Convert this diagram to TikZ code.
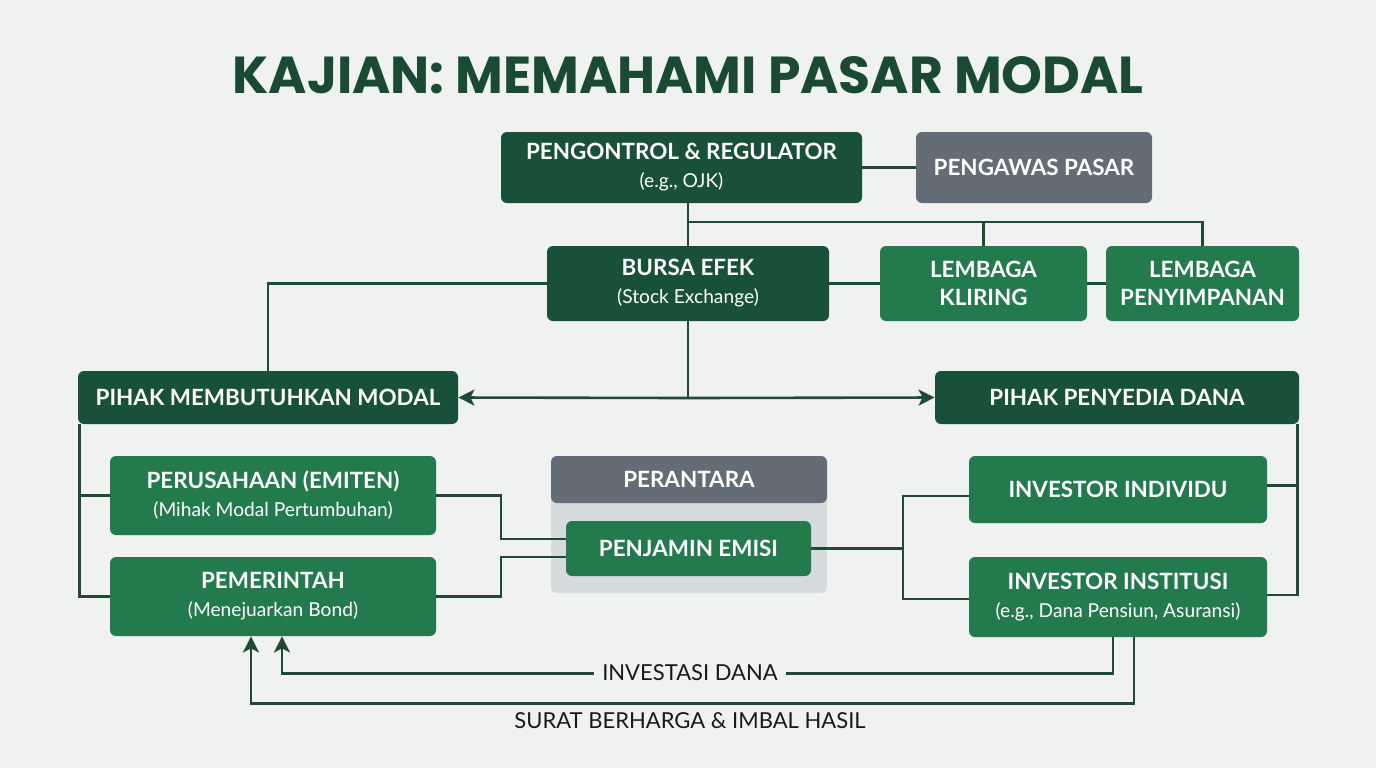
\documentclass[tikz,border=0pt]{standalone}
\usepackage{fontspec}
\setmainfont{Lato}
\newfontfamily\titlefont{Poppins}
\usetikzlibrary{positioning,arrows.meta}
\definecolor{bgcol}{HTML}{EFF2F1}
\definecolor{dkgreen}{HTML}{19503A}
\definecolor{mdgreen}{HTML}{237A4C}
\definecolor{slategrey}{HTML}{646D76}
\definecolor{panelgrey}{HTML}{D6DBDD}
\definecolor{linegreen}{HTML}{1E4A36}
\definecolor{titlegreen}{HTML}{1B4A33}
\newcommand{\subtxt}[1]{{\mdseries\fontsize{9.6}{11}\selectfont #1}}

\begin{document}
\begin{tikzpicture}[x=0.5pt,y=-0.5pt,
  box/.style={rounded corners=3pt, text=white, align=center, inner sep=0pt,
    font=\bfseries\fontsize{11.2}{14}\selectfont},
  dkbox/.style={box, fill=dkgreen},
  mdbox/.style={box, fill=mdgreen},
  gybox/.style={box, fill=slategrey},
  link/.style={draw=linegreen, line width=1.3pt},
  flow/.style={link, -{Stealth[length=8pt,width=8pt,inset=2pt]}},
  flowlbl/.style={text=black!90, font=\fontsize{11}{13}\selectfont}]
  \path[fill=bgcol] (0,0) rectangle (1376,768);

  \node (title) at (688,75) [text=titlegreen, font=\titlefont\bfseries\fontsize{26}{30}\selectfont] {KAJIAN: MEMAHAMI PASAR MODAL};

  \node (ctrl) [dkbox, minimum width=180.5pt, minimum height=35.5pt] at (681.5,167.5) {PENGONTROL \& REGULATOR\\\subtxt{(e.g., OJK)}};
  \node (pengawas) [gybox, minimum width=118pt, minimum height=35.5pt] at (1034,167.5) {PENGAWAS PASAR};
  \node (bursa) [dkbox, minimum width=141pt, minimum height=37.5pt] at (688,283.5) {BURSA EFEK\\\subtxt{(Stock Exchange)}};
  \node (kliring) [mdbox, minimum width=103.5pt, minimum height=37.5pt] at (983.5,283.5) {LEMBAGA\\KLIRING};
  \node (simpan) [mdbox, minimum width=96.5pt, minimum height=37.5pt] at (1202.5,283.5) {LEMBAGA\\PENYIMPANAN};
  \node (butuh) [dkbox, minimum width=190pt, minimum height=26.5pt] at (268,397.5) {PIHAK MEMBUTUHKAN MODAL};
  \node (sedia) [dkbox, minimum width=182pt, minimum height=26.5pt] at (1117,397.5) {PIHAK PENYEDIA DANA};
  \node (emiten) [mdbox, minimum width=163pt, minimum height=39.5pt] at (273,495.5) {PERUSAHAAN (EMITEN)\\\subtxt{(Mihak Modal Pertumbuhan)}};
  \node (pemerintah) [mdbox, minimum width=163pt, minimum height=39.5pt] at (273,596.5) {PEMERINTAH\\\subtxt{(Menejuarkan Bond)}};
  \node (perbox) [fill=panelgrey, rounded corners=3pt, minimum width=138pt, minimum height=68.5pt] at (689,524.5) {};
  \node (perhead) [gybox, minimum width=138pt, minimum height=23.5pt, anchor=north] at (perbox.north) {PERANTARA};
  \node (penjamin) [mdbox, minimum width=122.5pt, minimum height=27.5pt] at (688.5,548.5) {PENJAMIN EMISI};
  \node (individu) [mdbox, minimum width=149pt, minimum height=33.5pt] at (1118,489.5) {INVESTOR INDIVIDU};
  \node (institusi) [mdbox, minimum width=149pt, minimum height=40pt] at (1118,597) {INVESTOR INSTITUSI\\\subtxt{(e.g., Dana Pensiun, Asuransi)}};

  \coordinate (jtop) at (688,222);
  \coordinate (jmid) at (688,398);
  \coordinate (jleft) at (501,548);
  \coordinate (jright) at (903,548.5);

  \draw[link] (ctrl) -- (pengawas);
  \draw[link] (ctrl.south -| bursa.north) -- (bursa.north);
  \draw[link] (jtop) -| (simpan.north);
  \draw[link] (jtop -| kliring.north) -- (kliring.north);
  \draw[link] (bursa) -- (kliring);
  \draw[link] (kliring) -- (simpan);
  \draw[link] (bursa.west) -| (butuh.north);
  \draw[link] (bursa.south) -- (jmid);
  \draw[flow] (jmid) -- (butuh.east);
  \draw[flow] (jmid) -- (sedia.west);

  \draw[link] ([xshift=1pt]butuh.south west) |- (pemerintah.west);
  \draw[link] (emiten.west) -- ++(-30,0);
  \draw[link] ([xshift=-1pt]sedia.south east) |- ([yshift=1pt]institusi.east);
  \draw[link] ([yshift=2pt]individu.east) -- ++(30,0);

  \draw[link] (emiten.east) -| (jleft |- 0,539) -- ([yshift=4.75pt]penjamin.west);
  \draw[link] (pemerintah.east) -| (jleft |- 0,557) -- ([yshift=-4.25pt]penjamin.west);
  \draw[link] (penjamin.east) -- (jright);
  \draw[link] (jright) |- ([yshift=-3.25pt]individu.west);
  \draw[link] (jright) |- ([yshift=-1pt]institusi.west);

  \draw[flow] ([xshift=-2.5pt]institusi.south) -- ++(0,36) -| ([xshift=4.5pt]pemerintah.south);
  \draw[flow] ([xshift=8pt]institusi.south) -- ++(0,66) -| ([xshift=-11pt]pemerintah.south);
  \node (invest) [flowlbl, fill=bgcol, inner xsep=4pt] at (690,673) {INVESTASI DANA};
  \node (surat) [flowlbl] at (690,721) {SURAT BERHARGA \& IMBAL HASIL};
\end{tikzpicture}
\end{document}
